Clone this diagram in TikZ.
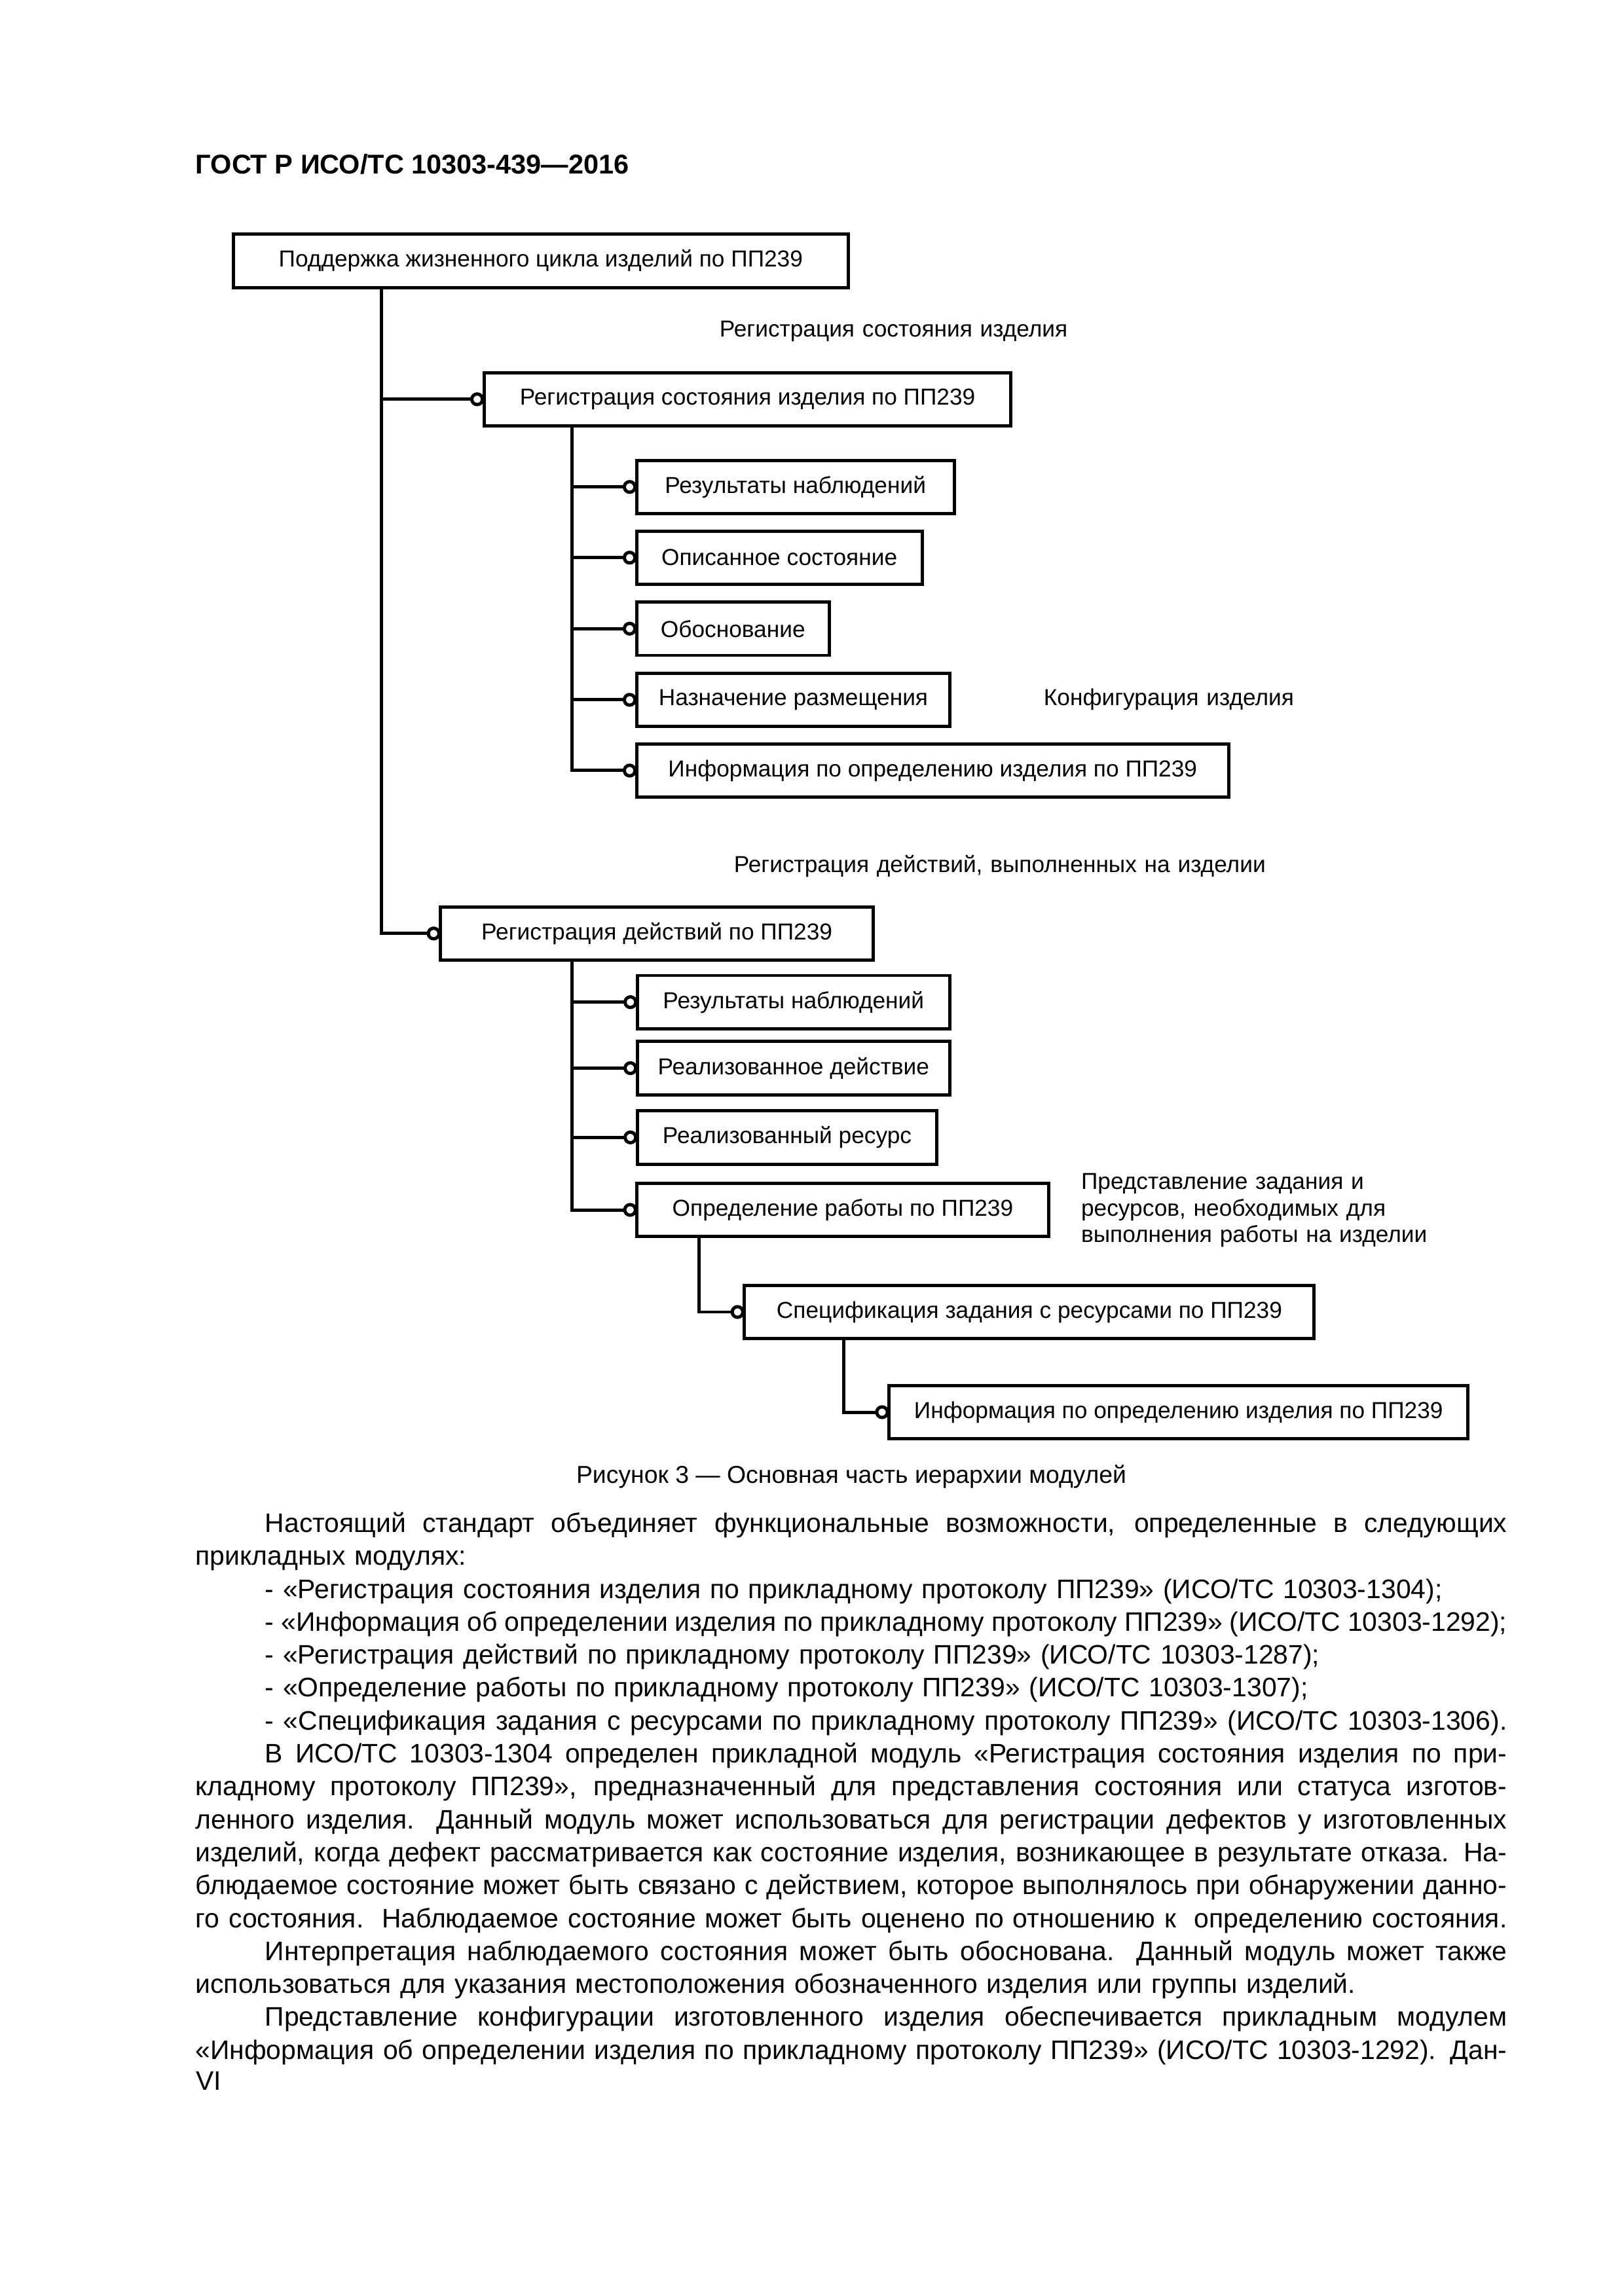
\documentclass[tikz,border=0pt]{standalone}
\usepackage{fontspec}
\setmainfont{Liberation Sans}
\usetikzlibrary{arrows.meta,positioning}

\newcommand{\jline}[1]{\makebox[\linewidth][s]{\spaceskip=0pt\xspaceskip=0pt\relax #1}}
\newcommand{\lline}[1]{\makebox[\linewidth][l]{#1}}
\newcommand{\redline}{\hspace*{9mm}}

\begin{document}
\begin{tikzpicture}[x=0.19056mm, y=-0.19056mm,
    modbox/.style={draw, line width=1.2pt, anchor=west, outer sep=0pt, minimum height=6.9mm, minimum width=#1, font=\fontsize{8.5}{10}\selectfont},
    lnk/.style={line width=1.2pt, -{Circle[open, length=1.8mm, width=1.8mm]}},
    note/.style={anchor=base west, inner sep=0pt, text width=90mm, align=left, font=\fontsize{8.5}{9.7}\selectfont},
    bodytext/.style={anchor=base west, inner sep=0pt, text width=169.6mm, align=left, font=\fontsize{9.85}{12.12}\selectfont}]
    \useasboundingbox (0,0) rectangle (1102,1558.4);

    \node [anchor=west, inner sep=0pt, font=\bfseries\fontsize{10}{12}\selectfont] (head) at (132.4,111.5) {ГОСТ Р ИСО/ТС 10303-439—2016};

    % modules
    \node [modbox=79.46mm] (root) at (158.5,177) {Поддержка жизненного цикла изделий по ПП239};
    \node [modbox=68.13mm] (reg) at (328.5,271) {Регистрация состояния изделия по ПП239};
    \node [modbox=41.07mm] (obs1) at (432,330.5) {Результаты наблюдений};
    \node [modbox=36.91mm] (desc) at (432,378.5) {Описанное состояние};
    \node [modbox=24.91mm] (just) at (432,426.7) {Обоснование};
    \node [modbox=40.53mm] (loc) at (432,475) {Назначение размещения};
    \node [modbox=76.57mm] (info1) at (432,523) {Информация по определению изделия по ПП239};
    \node [modbox=55.93mm] (act) at (299,633.6) {Регистрация действий по ПП239};
    \node [modbox=40.40mm] (obs2) at (432.5,680.2) {Результаты наблюдений};
    \node [modbox=40.40mm] (done) at (432.5,725) {Реализованное действие};
    \node [modbox=38.74mm] (res) at (432.5,772) {Реализованный ресурс};
    \node [modbox=53.2mm] (work) at (432.3,821.2) {Определение работы по ПП239};
    \node [modbox=73.67mm] (spec) at (505.2,890.5) {Спецификация задания с ресурсами по ПП239};
    \node [modbox=74.87mm] (info2) at (603.3,958.5) {Информация по определению изделия по ПП239};

    % notes
    \node [note] (n1) at (487.9,228.8) {Регистрация состояния изделия};
    \node [note] (n2) at (707.9,478.7) {Конфигурация изделия};
    \node [note] (n3) at (497.7,592.1) {Регистрация действий, выполненных на изделии};
    \node [note] (n4) at (733.3,807.3) {Представление задания и\\ресурсов, необходимых для\\выполнения работы на изделии};

    % trunks
    \coordinate (t0) at (258.7,0);
    \coordinate (t1) at (388,0);
    \coordinate (t2) at (474.5,0);
    \coordinate (t3) at (572.4,0);

    \draw [lnk] (root.south -| t0) |- (reg.west);
    \draw [lnk] (root.south -| t0) |- (act.west);
    \foreach \m in {obs1,desc,just,loc,info1}
        \draw [lnk] (reg.south -| t1) |- (\m.west);
    \foreach \m in {obs2,done,res,work}
        \draw [lnk] (act.south -| t1) |- (\m.west);
    \draw [lnk] (work.south -| t2) |- (spec.west);
    \draw [lnk] (spec.south -| t3) |- (info2.west);

    \node [anchor=base, inner sep=0pt, font=\fontsize{9}{11}\selectfont] (cap) at (577.7,1006.7) {Рисунок 3 — Основная часть иерархии модулей};

    % text under the figure
    \node [bodytext] (body) at (132.3,1040) {%
        \jline{\redline Настоящий стандарт объединяет функциональные возможности, определенные в следующих}\\
        прикладных модулях:\\
        \lline{\redline - «Регистрация состояния изделия по прикладному протоколу ПП239» (ИСО/ТС 10303-1304);}\\
        \jline{\redline - «Информация об определении изделия по прикладному протоколу ПП239» (ИСО/ТС 10303-1292);}\\
        \lline{\redline - «Регистрация действий по прикладному протоколу ПП239» (ИСО/ТС 10303-1287);}\\
        \lline{\redline - «Определение работы по прикладному протоколу ПП239» (ИСО/ТС 10303-1307);}\\
        \jline{\redline - «Спецификация задания с ресурсами по прикладному протоколу ПП239» (ИСО/ТС 10303-1306).}\\
        \jline{\redline В ИСО/ТС 10303-1304 определен прикладной модуль «Регистрация состояния изделия по при-}\\
        \jline{кладному протоколу ПП239», предназначенный для представления состояния или статуса изготов-}\\
        \jline{ленного изделия. Данный модуль может использоваться для регистрации дефектов у изготовленных}\\
        \jline{изделий, когда дефект рассматривается как состояние изделия, возникающее в результате отказа. На-}\\
        \jline{блюдаемое состояние может быть связано с действием, которое выполнялось при обнаружении данно-}\\
        \jline{го состояния.\ \ Наблюдаемое состояние может быть оценено по отношению к\ \ определению состояния.}\\
        \jline{\redline Интерпретация наблюдаемого состояния может быть обоснована. Данный модуль может также}\\
        \lline{использоваться для указания местоположения обозначенного изделия или группы изделий.}\\
        \jline{\redline Представление конфигурации изготовленного изделия обеспечивается прикладным модулем}\\
        \jline{«Информация об определении изделия по прикладному протоколу ПП239» (ИСО/ТС 10303-1292). Дан-}};

    \node [anchor=base west, inner sep=0pt, font=\fontsize{9.85}{12}\selectfont] (page) at (132.8,1418.5) {VI};

\end{tikzpicture}
\end{document}
